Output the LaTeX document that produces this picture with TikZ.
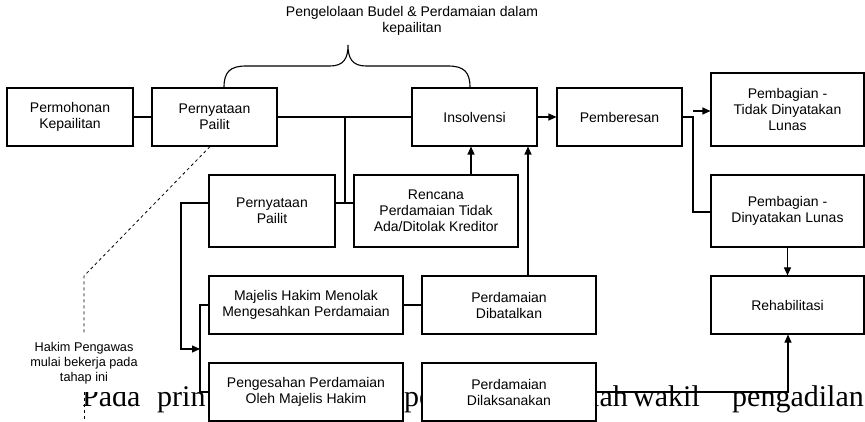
\documentclass[tikz,border=0pt]{standalone}
\usepackage{fontspec}
\setmainfont{Liberation Sans}
\newfontfamily\bgserif{Liberation Serif}
\usetikzlibrary{arrows.meta,calc}
\begin{document}
\begin{tikzpicture}[x=1pt,y=-1pt,
  box/.style={draw, fill=white, line width=1.1pt, rectangle, align=center, inner sep=1pt, font=\fontsize{14}{16}\selectfont},
  conn/.style={line width=1.1pt},
  arr/.style={conn, -{Triangle[length=8pt,width=7pt]}},
  bgtext/.style={anchor=base west, inner sep=0pt, font=\bgserif\fontsize{30}{36}\selectfont},
  note/.style={align=center, inner sep=0pt, font=\fontsize{12.7}{15}\selectfont},
  hint/.style={line width=0.8pt, dash pattern=on 3pt off 3pt}
]
\fill[white] (0,0) rectangle (865,422);
\useasboundingbox (0,0) rectangle (865,422);

% background page text
\node[bgtext] (t1) at (82,406) {Pada};
\node[bgtext] (t2) at (157,406) {prin};
\node[bgtext] (t3) at (404,406) {pe};
\node[bgtext] (t4) at (591,406) {lah};
\node[bgtext] (t5) at (633,406) {wakil};
\node[bgtext] (t6) at (732,406) {pengadilan};
\fill[white] (60,370) rectangle (150,392);

% note
\node[note] (hk) at (84,363) {Hakim Pengawas\\mulai bekerja pada\\tahap ini};

% boxes
\node[box, minimum width=126pt, minimum height=58pt] (perm) at (70,117) {Permohonan\\Kepailitan};
\node[box, minimum width=125pt, minimum height=58pt] (pp1) at (214.5,117) {Pernyataan\\Pailit};
\node[box, minimum width=125pt, minimum height=58pt] (ins) at (474.5,117) {Insolvensi};
\node[box, minimum width=125pt, minimum height=58pt] (pem) at (619.5,117) {Pemberesan};
\node[box, minimum width=153pt, minimum height=73pt] (ptdl) at (787.5,109.5) {Pembagian -\\Tidak Dinyatakan\\Lunas};
\node[box, minimum width=126pt, minimum height=72pt] (pp2) at (272,211) {Pernyataan\\Pailit};
\node[box, minimum width=164pt, minimum height=72pt] (ren) at (436,211) {Rencana\\Perdamaian Tidak\\Ada/Ditolak Kreditor};
\node[box, minimum width=153pt, minimum height=72pt] (pdl) at (787.5,211) {Pembagian -\\Dinyatakan Lunas};
\node[box, minimum width=194pt, minimum height=58pt] (maj) at (306,305) {Majelis Hakim Menolak\\Mengesahkan Perdamaian};
\node[box, minimum width=174pt, minimum height=58pt] (pdb) at (509,305) {Perdamaian\\Dibatalkan};
\node[box, minimum width=153pt, minimum height=58pt] (reh) at (787.5,305) {Rehabilitasi};
\node[box, minimum width=194pt, minimum height=58pt] (pen) at (306,392) {Pengesahan Perdamaian\\Oleh Majelis Hakim};
\node[box, minimum width=174pt, minimum height=58pt] (pdk) at (509,392) {Perdamaian\\Dilaksanakan};

% brace and its label
\node[inner sep=0pt, align=center, font=\fontsize{14}{16}\selectfont] (lbl) at (412,21) {Pengelolaan Budel \& Perdamaian dalam\\kepailitan};
\draw[conn] ($(pp1.north)+(9.5,0)$) .. controls (224,72) and (230,66) .. (246,66) -- (330,66)
  .. controls (344,66) and (348,58) .. (348,45)
  .. controls (348,58) and (352,66) .. (366,66) -- (448,66)
  .. controls (464,66) and (470,72) .. ($(ins.north)+(-4.5,0)$);

% connectors
\coordinate (j1) at (345,117);
\coordinate (j2) at (345,203);
\coordinate (j3) at (693,117);
\coordinate (j4) at (693,111);
\coordinate (j5) at (693,212);
\coordinate (xa) at (471,0);
\coordinate (xb) at (528,0);
\coordinate (k1) at (181,203);
\coordinate (k2) at (181,349);
\coordinate (k3) at (200,349);
\coordinate (k4) at (200,305);
\coordinate (k5) at (200,392);
\coordinate (r1) at (788,392);
\coordinate (d1) at (84,276);
\coordinate (d2) at (84,333);
\coordinate (d3) at (84,392);
\coordinate (d4) at (84,422);

\draw[conn] (perm) -- (pp1);
\draw[conn] (pp1) -- (ins);
\draw[conn] (j1) -- (j2);
\draw[conn] (pp2.east |- j2) -- (ren.west |- j2);
\draw[arr] (ins) -- (pem);
\draw[conn] (pem.east) -- (j3) -- (j5) -- (pdl.west |- j5);
\draw[arr] (j4) -- (ptdl.west |- j4);
\draw[arr] (ren.north -| xa) -- (ins.south -| xa);
\draw[arr] (pdb.north -| xb) -- (ins.south -| xb);
\draw[arr] (pp2.west |- j2) -- (k1) -- (k2) -- (k3);
\draw[conn] (maj.west) -- (k4) -- (k5) -- (pen.west);
\draw[conn] (maj) -- (pdb);
\draw[arr] (pdk.east) -- (r1) -- (reh.south -| r1);
\draw[arr] (pdl) -- (reh);

% dashed hint line
\draw[hint] ($(pp1.south)+(-4.5,0)$) -- (d1) -- (d2);
\draw[hint] (d3) -- (d4);
\end{tikzpicture}
\end{document}
